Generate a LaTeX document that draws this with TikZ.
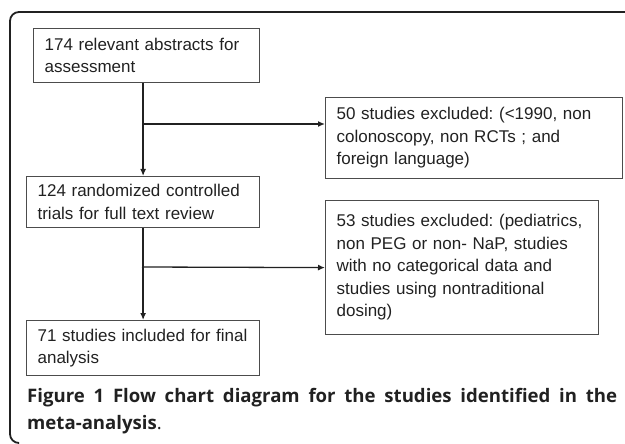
\documentclass[tikz,border=0pt]{standalone}
\usepackage{fontspec}
\setmainfont{Liberation Sans}
\newfontfamily\capfont{Open Sans}
\usetikzlibrary{arrows.meta}
\frenchspacing
\definecolor{inkgray}{rgb}{0.13,0.13,0.13}
\definecolor{boxgray}{rgb}{0.30,0.30,0.30}
\tikzset{
  flowbox/.style={draw=boxgray, line width=1.2pt, rectangle, anchor=north west,
    align=left, inner xsep=11pt, inner ysep=0pt, text=inkgray,
    font=\fontsize{17}{22.5}\selectfont},
  flowarrow/.style={draw=inkgray, line width=1.3pt, -{Latex[length=7pt,width=6pt]}},
}
\begin{document}
\begin{tikzpicture}[x=1pt,y=-1pt]
  \useasboundingbox (0,0) rectangle (625,444);

  % Drawing outer frame
  \draw [line width=1.8pt, inkgray, rounded corners=9pt] (626,12) -- (10,12) -- (10,443) -- (18,443);%

  % Drawing boxes
  \node [flowbox, text width=204pt, minimum height=54pt] (abstracts) at (33,28)
    {174 relevant abstracts for\\assessment};%
  \node [flowbox, text width=275pt, minimum height=81pt] (excludedA) at (325,97)
    {50 studies excluded: (<1990, non\\colonoscopy, non RCTs ; and\\foreign language)};%
  \node [flowbox, text width=211pt, minimum height=51pt] (trials) at (26,176)
    {124 randomized controlled\\trials for full text review};%
  \node [flowbox, text width=251pt, minimum height=134pt] (excludedB) at (325,200)
    {53 studies excluded: (pediatrics,\\non PEG or non- NaP, studies\\with no categorical data and\\studies using nontraditional\\dosing)};%
  \node [flowbox, text width=211pt, minimum height=55pt] (included) at (26,320)
    {71 studies included for final\\analysis};%

  % Branch points
  \coordinate (splitA) at (142,124);%
  \coordinate (splitB) at (142,267);%

  % Drawing connectors
  \draw [flowarrow] (trials.north |- abstracts.south) -- (trials.north);%
  \draw [flowarrow] (splitA) -- (splitA -| excludedA.west);%
  \draw [flowarrow] (trials.south) -- (included.north);%
  \draw [flowarrow] (splitB) -- (excludedB.west);%

  % Caption
  \node [anchor=north west, inner sep=0pt, text width=590pt, align=justify, text=inkgray,
    font=\capfont\fontsize{18.6}{27}\selectfont] (caption) at (27,388)
    {\textbf{Figure 1 Flow chart diagram for the studies identified in the\linebreak
    meta-analysis}.};%
\end{tikzpicture}
\end{document}
